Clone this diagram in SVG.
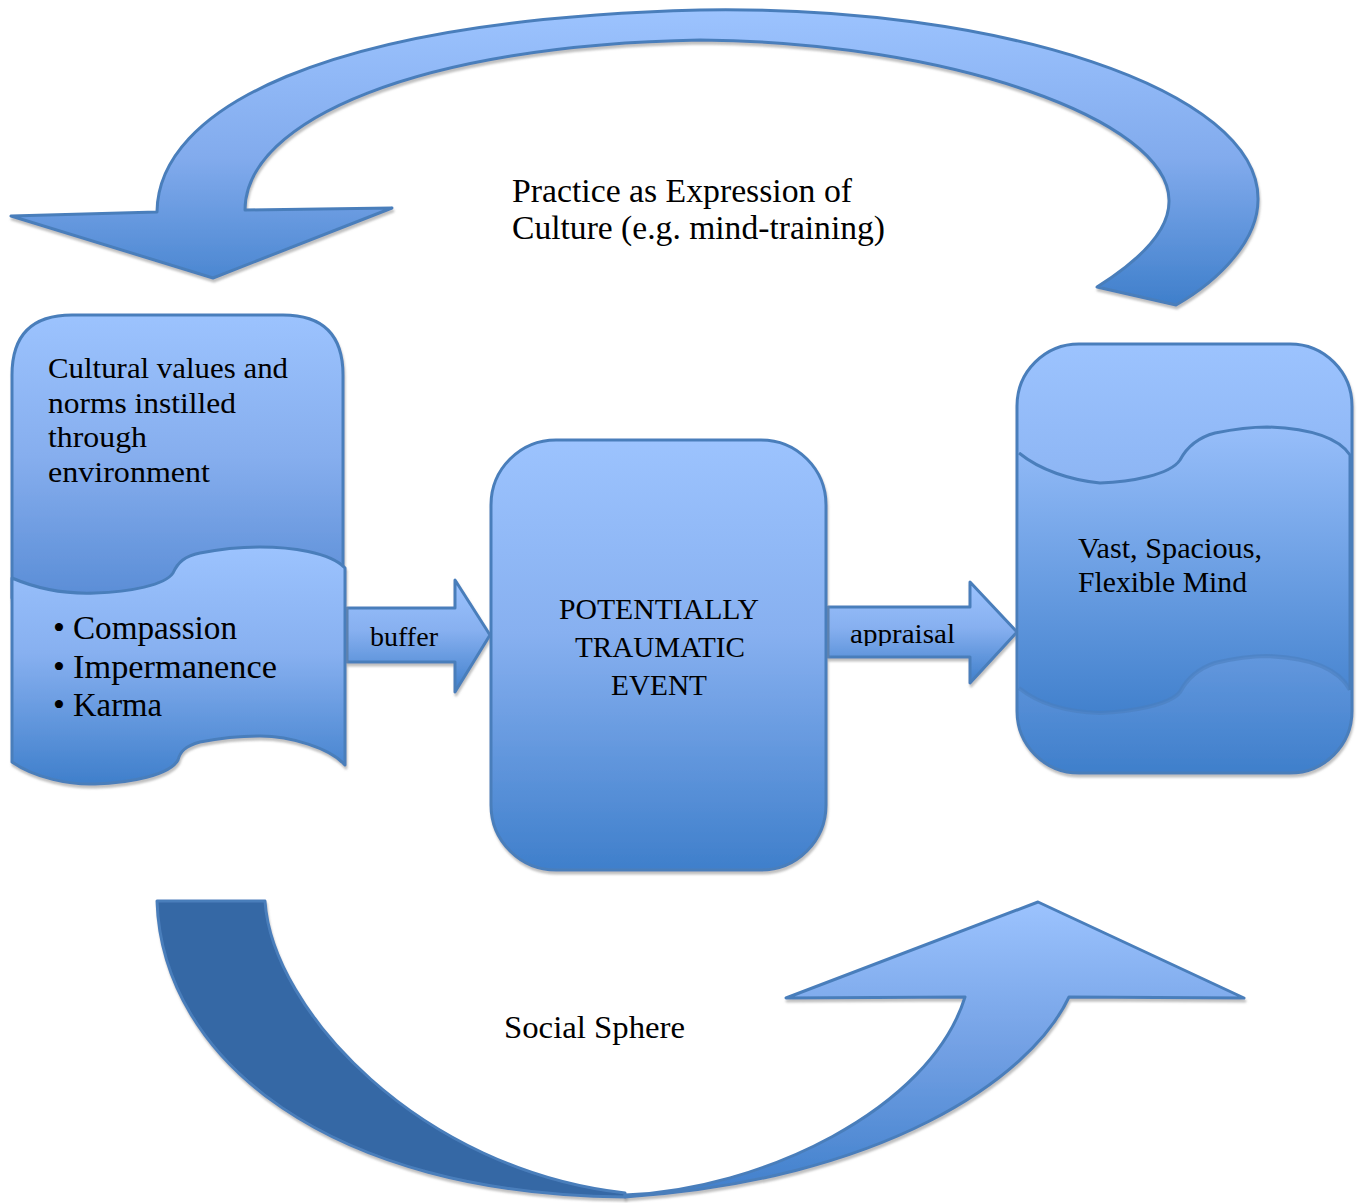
<svg xmlns="http://www.w3.org/2000/svg" width="1362" height="1203" viewBox="0 0 1362 1203">
<defs>
<linearGradient id="gV" x1="0" y1="0" x2="0" y2="1">
<stop offset="0" stop-color="#9cc3fe"/>
<stop offset="0.45" stop-color="#87b0f0"/>
<stop offset="1" stop-color="#3f7fcb"/>
</linearGradient>
<linearGradient id="gTop" x1="0" y1="0" x2="0" y2="1">
<stop offset="0" stop-color="#9cc3fe"/>
<stop offset="0.5" stop-color="#86aeee"/>
<stop offset="1" stop-color="#5a8dd6"/>
</linearGradient>
<linearGradient id="gTopArrow" gradientUnits="userSpaceOnUse" x1="0" y1="10" x2="0" y2="305">
<stop offset="0" stop-color="#9cc3fe"/>
<stop offset="0.5" stop-color="#82abed"/>
<stop offset="1" stop-color="#3f7fcb"/>
</linearGradient>
<linearGradient id="gBotArrow" gradientUnits="userSpaceOnUse" x1="0" y1="902" x2="0" y2="1197">
<stop offset="0" stop-color="#9cc3fe"/>
<stop offset="0.5" stop-color="#72a0e4"/>
<stop offset="1" stop-color="#3f7fcb"/>
</linearGradient>
<linearGradient id="gTape" gradientUnits="userSpaceOnUse" x1="0" y1="427" x2="0" y2="713">
<stop offset="0" stop-color="#97befa"/>
<stop offset="1" stop-color="#4281cd"/>
</linearGradient>
<filter id="sh" x="-10%" y="-10%" width="120%" height="120%">
<feDropShadow dx="1" dy="3" stdDeviation="0.8" flood-color="#8c8c8c" flood-opacity="0.55"/>
</filter>
<clipPath id="clipAppr"><rect x="828" y="600" width="150" height="46"/></clipPath>
<style>
.sh{stroke:#4a7ebb;stroke-width:3;stroke-linejoin:round;filter:url(#sh)}
.txt{font-family:"Liberation Serif","Times New Roman",serif;fill:#000}
.bul{font-size:34px}
</style>
</defs>
<rect width="1362" height="1203" fill="#fff"/>

<g id="connectors">
<g id="top-arrow">
<path class="sh" fill="url(#gTopArrow)" d="M157,212 C158,110 320,20 700,10 C1000,5 1260,90 1258,200 C1258,240 1220,280 1176,305 L1097,287 C1140,260 1170,230 1169,200 C1168,120 950,42 700,40 C420,45 245,120 245,210 L392,208 L213,278 L11,216 Z"/>
</g>
<g id="bottom-arrow">
<path class="sh" fill="#3567a5" d="M157,901 L265,901 C272,1010 420,1170 625,1193 L625,1197 C330,1195 162,1060 157,901 Z"/>
<path class="sh" fill="url(#gBotArrow)" d="M625,1195 C760,1190 930,1110 965,997 L786,998 L1038,902 L1244,998 L1069,997 C1030,1080 880,1180 625,1197 Z"/>
</g>
<g id="buffer-arrow">
<path class="sh" fill="url(#gV)" d="M347,608 L455,608 L455,580 L490,635 L455,692 L455,662 L347,662 Z"/>
<text class="txt" x="370" y="646" font-size="27" textLength="68" lengthAdjust="spacingAndGlyphs">buffer</text>
</g>
<g id="appraisal-arrow">
<path class="sh" fill="url(#gV)" d="M828,607 L970,607 L970,582 L1017,632 L970,683 L970,657 L828,657 Z"/>
<text class="txt" x="850" y="643" font-size="27" textLength="105" lengthAdjust="spacingAndGlyphs" clip-path="url(#clipAppr)">appraisal</text>
</g>
</g>

<g id="label-practice">
<text class="txt" x="512" y="202" font-size="33" textLength="340" lengthAdjust="spacingAndGlyphs">Practice as Expression of</text>
<text class="txt" x="512" y="239" font-size="33" textLength="373" lengthAdjust="spacingAndGlyphs">Culture (e.g. mind-training)</text>
</g>
<g id="label-social">
<text class="txt" x="504" y="1038" font-size="32" textLength="181" lengthAdjust="spacingAndGlyphs">Social Sphere</text>
</g>

<g id="node-cultural">
<path class="sh" fill="url(#gTop)" d="M12,598 L12,375 Q12,315 72,315 L283,315 Q343,315 343,375 L343,598 Z"/>
<path class="sh" fill="url(#gV)" d="M12,578 C40,590 70,594 95,593 C130,592 165,585 173,573 C178,562 185,556 200,553 C225,548 245,547 260,547 C290,547 330,552 345,568 L345,765 C330,748 290,736 260,736 C240,736 215,739 200,742 C185,746 180,752 178,760 C170,775 130,783 95,784 C70,785 35,778 12,762 Z"/>
<text class="txt" x="48" y="378" font-size="30" textLength="240" lengthAdjust="spacingAndGlyphs">Cultural values and</text>
<text class="txt" x="48" y="413" font-size="30" textLength="188" lengthAdjust="spacingAndGlyphs">norms instilled</text>
<text class="txt" x="48" y="447" font-size="30" textLength="99" lengthAdjust="spacingAndGlyphs">through</text>
<text class="txt" x="48" y="482" font-size="30" textLength="162" lengthAdjust="spacingAndGlyphs">environment</text>
<text class="txt" x="53" y="639" font-size="33"><tspan class="bul">•</tspan><tspan x="73" textLength="164" lengthAdjust="spacingAndGlyphs">Compassion</tspan></text>
<text class="txt" x="53" y="678" font-size="33"><tspan class="bul">•</tspan><tspan x="73" textLength="204" lengthAdjust="spacingAndGlyphs">Impermanence</tspan></text>
<text class="txt" x="53" y="716" font-size="33"><tspan class="bul">•</tspan><tspan x="73" textLength="89" lengthAdjust="spacingAndGlyphs">Karma</tspan></text>
</g>

<g id="node-event">
<rect class="sh" fill="url(#gV)" x="491" y="440" width="335" height="430" rx="65" ry="65"/>
<text class="txt" x="659" y="619" font-size="30" text-anchor="middle" textLength="200" lengthAdjust="spacingAndGlyphs">POTENTIALLY</text>
<text class="txt" x="660" y="657" font-size="30" text-anchor="middle" textLength="170" lengthAdjust="spacingAndGlyphs">TRAUMATIC</text>
<text class="txt" x="659" y="695" font-size="30" text-anchor="middle" textLength="96" lengthAdjust="spacingAndGlyphs">EVENT</text>
</g>

<g id="node-mind">
<rect class="sh" fill="url(#gV)" x="1017" y="344" width="335" height="429" rx="62" ry="62"/>
<path fill="url(#gTape)" d="M1019,453 C1040,470 1070,480 1100,483 C1130,482 1170,475 1180,460 C1188,445 1200,437 1215,433 C1240,428 1255,427 1267,427 C1295,428 1335,433 1350,455 L1350,690 C1335,662 1295,657 1267,656 C1255,656 1240,657 1215,663 C1200,668 1188,677 1180,692 C1170,705 1130,712 1100,713 C1070,712 1040,705 1019,688 Z"/>
<path fill="none" stroke="#4a7ebb" stroke-width="3" d="M1019,453 C1040,470 1070,480 1100,483 C1130,482 1170,475 1180,460 C1188,445 1200,437 1215,433 C1240,428 1255,427 1267,427 C1295,428 1335,433 1350,455 L1350,690"/>
<path fill="none" stroke="#4a7ebb" stroke-width="4" stroke-opacity="0.55" d="M1019,688 C1040,705 1070,712 1100,713 C1130,712 1170,705 1180,692 C1188,677 1200,668 1215,663 C1240,657 1255,656 1267,656 C1295,657 1335,662 1350,690"/>
<text class="txt" x="1078" y="558" font-size="30" textLength="184" lengthAdjust="spacingAndGlyphs">Vast, Spacious,</text>
<text class="txt" x="1078" y="592" font-size="30" textLength="169" lengthAdjust="spacingAndGlyphs">Flexible Mind</text>
</g>
</svg>
